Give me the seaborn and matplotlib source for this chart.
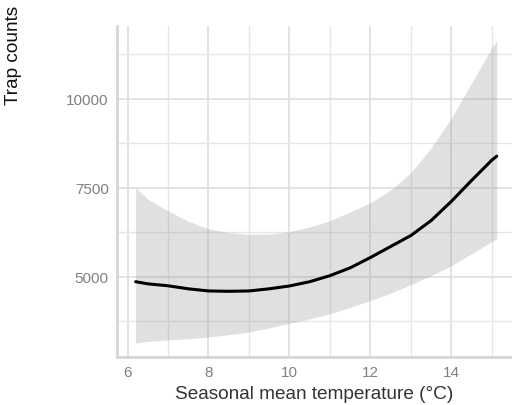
import matplotlib
matplotlib.use("Agg")
import matplotlib.pyplot as plt
import seaborn as sns
import pandas as pd
from matplotlib.ticker import MultipleLocator

# values
temperature = [6.2, 6.5, 7, 7.5, 8, 8.5, 9, 9.5, 10, 10.5, 11, 11.5,
               12, 12.5, 13, 13.5, 14, 14.5, 15, 15.12]
fit = [4860, 4800, 4745, 4660, 4600, 4590, 4600, 4660, 4740, 4860, 5030, 5250,
       5540, 5850, 6160, 6580, 7120, 7710, 8280, 8390]
upper = [7510, 7180, 6850, 6560, 6350, 6240, 6190, 6200, 6270, 6400, 6580, 6820,
         7080, 7440, 7930, 8620, 9460, 10450, 11440, 11640]
lower = [3135, 3180, 3220, 3260, 3305, 3370, 3445, 3560, 3690, 3815, 3960, 4140,
         4330, 4540, 4780, 5030, 5310, 5650, 5990, 6070]

df = pd.DataFrame({"temp": temperature, "fit": fit, "lo": lower, "hi": upper})

sns.set_theme(style="white")
plt.rcParams["font.family"] = ["Liberation Sans", "DejaVu Sans"]

fig = plt.figure(figsize=(5.12, 4.06), dpi=100)
ax = fig.add_axes([0.2285, 0.118, 0.771, 0.8155])

ax.fill_between(df["temp"], df["lo"], df["hi"], color="#999999", alpha=0.3,
                linewidth=0, zorder=2)
sns.lineplot(data=df, x="temp", y="fit", color="black", linewidth=2.2, ax=ax,
             zorder=3)

ax.set_xlim(5.74, 15.49)
ax.set_ylim(2740, 12050)
ax.xaxis.set_major_locator(MultipleLocator(2))
ax.xaxis.set_minor_locator(MultipleLocator(1))
ax.yaxis.set_major_locator(MultipleLocator(2500))
ax.yaxis.set_minor_locator(MultipleLocator(1250))
ax.set_axisbelow(True)
ax.grid(which="major", color="#dedede", linewidth=1.2)
ax.grid(which="minor", color="#e6e6e6", linewidth=1.0)

for side in ["top", "right"]:
    ax.spines[side].set_visible(False)
for side in ["left", "bottom"]:
    ax.spines[side].set_color("#d6d6d6")
    ax.spines[side].set_linewidth(2)

ax.tick_params(which="both", length=0, labelsize=11, labelcolor="#808080",
               pad=6)
ax.set_xlabel("Seasonal mean temperature (°C)", fontsize=13.7, color="#333333",
              labelpad=4)
ax.set_ylabel("Trap counts", fontsize=13.7, color="#111111")
ax.yaxis.set_label_coords(-0.24, 0.915)

fig.savefig("out.png", dpi=100)
